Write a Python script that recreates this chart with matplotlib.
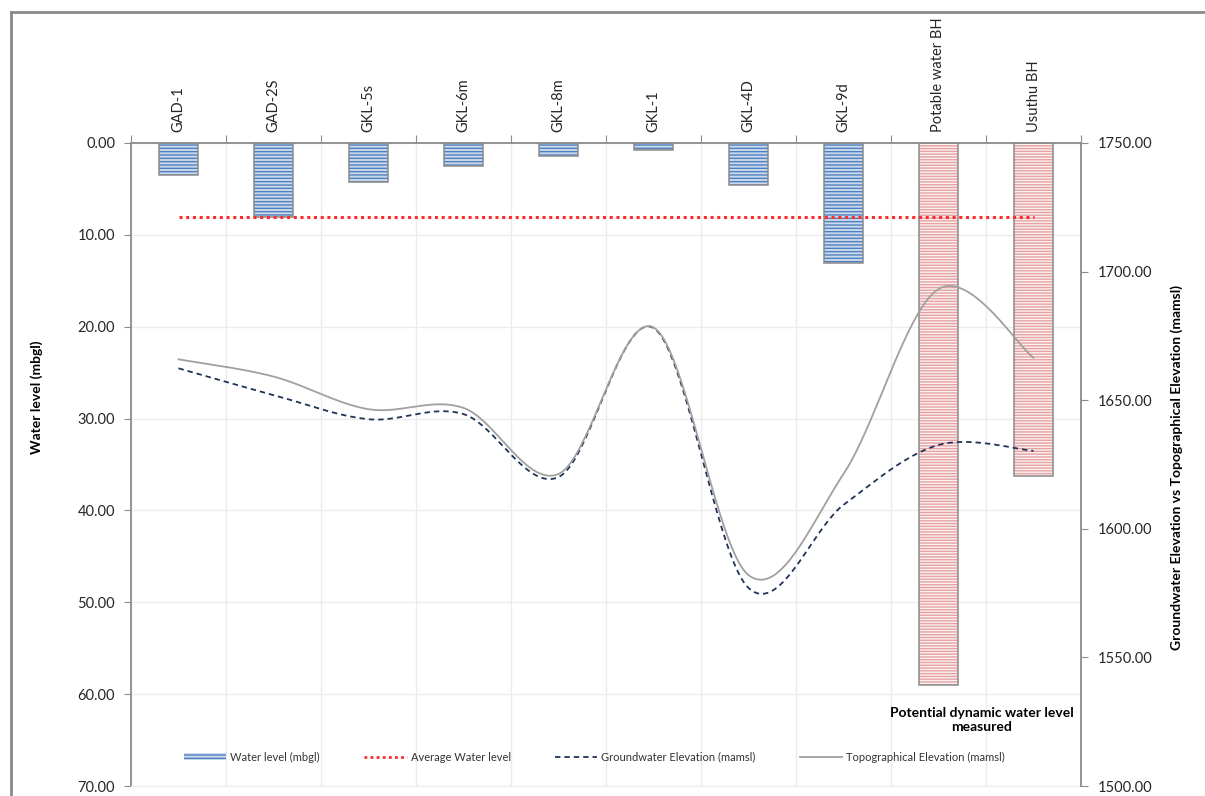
import numpy as np
import matplotlib
matplotlib.use("Agg")
import matplotlib.pyplot as plt
from matplotlib.patches import Patch
from matplotlib.lines import Line2D

# ---------------- data ----------------
boreholes = ["GAD-1", "GAD-2S", "GKL-5s", "GKL-6m", "GKL-8m", "GKL-1",
             "GKL-4D", "GKL-9d", "Potable water BH", "Usuthu BH"]
water_level = [3.5, 8.1, 4.2, 2.5, 1.4, 0.8, 4.6, 13.1, 59.0, 36.2]
average_water_level = 8.06
groundwater_elev = [1662.4, 1652.0, 1642.6, 1644.6, 1620.1, 1678.1,
                    1577.0, 1609.3, 1632.6, 1630.3]
topo_elev = [1665.9, 1659.2, 1646.5, 1647.0, 1621.3, 1678.3,
             1582.0, 1621.3, 1693.2, 1666.5]
left_ticks = [0, 10, 20, 30, 40, 50, 60, 70]
right_ticks = [1500, 1550, 1600, 1650, 1700, 1750]
annotation = "Potential dynamic water level\nmeasured"

# ---------------- styles ----------------
plt.rcParams['font.family'] = ['Lato', 'DejaVu Sans']
plt.rcParams['hatch.linewidth'] = 1.0
W, H = 1205, 796
fig = plt.figure(figsize=(W / 100, H / 100), dpi=100)
fig.patch.set_facecolor('white')

AX_GREY = '#8c8c8c'
GRID = '#ececec'
TXT = '#262626'


def fx(px):
    return px / W


def fy(py):
    return 1 - py / H


def smooth(xs, ys, n=40):
    P = np.column_stack([xs, ys]).astype(float)
    Pe = np.vstack([P[0], P, P[-1]])
    out = []
    t = np.linspace(0, 1, n)[:, None]
    for i in range(len(P) - 1):
        p0, p1, p2, p3 = Pe[i], Pe[i + 1], Pe[i + 2], Pe[i + 3]
        c1 = p1 + (p2 - p0) / 6.0
        c2 = p2 - (p3 - p1) / 6.0
        seg = ((1 - t) ** 3) * p1 + 3 * ((1 - t) ** 2) * t * c1 + 3 * (1 - t) * t ** 2 * c2 + t ** 3 * p2
        out.append(seg if i == 0 else seg[1:])
    S = np.vstack(out)
    return S[:, 0], S[:, 1]


ax = fig.add_axes([fx(131), 1 - 786 / H, (1081 - 131) / W, (786 - 143) / H])
n = len(boreholes)
x = np.arange(n)

# bars
face_cols = ['#c9d9ee'] * 8 + ['#fcf0f0'] * 2
hatch_cols = ['#4f81bd'] * 8 + ['#e6a2a2'] * 2
hatches = ['-----'] * 8 + ['------'] * 2
for xi, v, fc, hc, hp in zip(x, water_level, face_cols, hatch_cols, hatches):
    ax.bar(xi, v, width=0.41, color=fc, edgecolor=hc, hatch=hp, linewidth=0, zorder=2)
    ax.bar(xi, v, width=0.41, facecolor='none', edgecolor='#8a8a8a', linewidth=1.1, zorder=3)

# average line
ax.plot([x[0], x[-1]], [average_water_level] * 2, color='#ff2a2a', lw=2.2,
        linestyle=(0, (1, 1.2)), zorder=4)

ax.set_xlim(-0.5, n - 0.5)
ax.set_ylim(70, 0)

# x-axis on top
ax.xaxis.tick_top()
ax.set_xticks(np.arange(-0.5, n, 1.0))
ax.set_xticklabels([])
ax.set_xticks(x, minor=True)
ax.set_xticklabels(boreholes, minor=True, rotation=90, fontsize=10.5, color=TXT)
ax.tick_params(axis='x', which='major', length=6, color=AX_GREY, direction='out', top=True, bottom=False)
ax.tick_params(axis='x', which='minor', length=0, pad=8, top=True, bottom=False)

ax.set_yticks(left_ticks)
ax.set_yticklabels([f"{v:.2f}" for v in left_ticks], fontsize=10.5, color=TXT)
ax.tick_params(axis='y', length=5, color=AX_GREY, pad=6.5)

ax.grid(axis='y', color=GRID, lw=1, zorder=0)
ax.grid(axis='x', which='major', color=GRID, lw=1, zorder=0)
ax.set_axisbelow(True)

for s in ['left', 'top']:
    ax.spines[s].set_color(AX_GREY)
    ax.spines[s].set_linewidth(1.3)
ax.spines['right'].set_visible(False)
ax.spines['bottom'].set_color(GRID)

# secondary axis
ax2 = ax.twinx()
ax2.set_ylim(1500, 1750)
ax2.set_yticks(right_ticks)
ax2.set_yticklabels([f"{v:.2f}" for v in right_ticks], fontsize=10.5, color=TXT)
ax2.tick_params(axis='y', length=5, color=AX_GREY, pad=7)
for s in ['left', 'top', 'bottom']:
    ax2.spines[s].set_visible(False)
ax2.spines['right'].set_color(AX_GREY)
ax2.spines['right'].set_linewidth(1.3)

gx, gy = smooth(x, groundwater_elev)
tx, ty = smooth(x, topo_elev)
ax2.plot(gx, gy, color='#1f3458', lw=1.3, linestyle=(0, (3, 2.2)), zorder=5)
ax2.plot(tx, ty, color='#a0a0a0', lw=1.3, zorder=5)

# axis titles
fig.text(fx(37), fy(397), "Water level (mbgl)", rotation=90, ha='center', va='center',
         fontsize=10, fontweight='bold', color='black')
fig.text(fx(1177), fy(467), "Groundwater Elevation vs Topographical Elevation (mamsl)",
         rotation=90, ha='center', va='center', fontsize=10, fontweight='bold', color='black')

# annotation
fig.text(fx(982), fy(720), annotation, ha='center', va='center', fontsize=10,
         fontweight='bold', color='black', linespacing=1.25)

# legend
handles = [
    Patch(facecolor='#c9d9ee', edgecolor='#4f81bd', hatch='-----', linewidth=0),
    Line2D([], [], color='#ff2a2a', lw=2, linestyle=(0, (1, 1.2))),
    Line2D([], [], color='#1f3458', lw=1.3, linestyle=(0, (3, 2.2))),
    Line2D([], [], color='#a0a0a0', lw=1.3),
]
labels = ["Water level (mbgl)", "Average Water level",
          "Groundwater Elevation (mamsl)", "Topographical Elevation (mamsl)"]
leg = fig.legend(handles, labels, loc='center left', bbox_to_anchor=(fx(184), fy(757)),
                 ncol=4, frameon=False, fontsize=8, handlelength=3.8, handleheight=0.55,
                 handletextpad=0.36, columnspacing=4.0, borderpad=0, borderaxespad=0)
for t in leg.get_texts():
    t.set_color('#333333')

# outer chart border (cropped)
fig.add_artist(Line2D([fx(11), fx(11)], [fy(12), -0.05], color='#8a8a8a', lw=2,
                      transform=fig.transFigure))
fig.add_artist(Line2D([fx(11), 1.05], [fy(12), fy(12)], color='#8a8a8a', lw=2,
                      transform=fig.transFigure))

fig.savefig('out.png', dpi=100)
